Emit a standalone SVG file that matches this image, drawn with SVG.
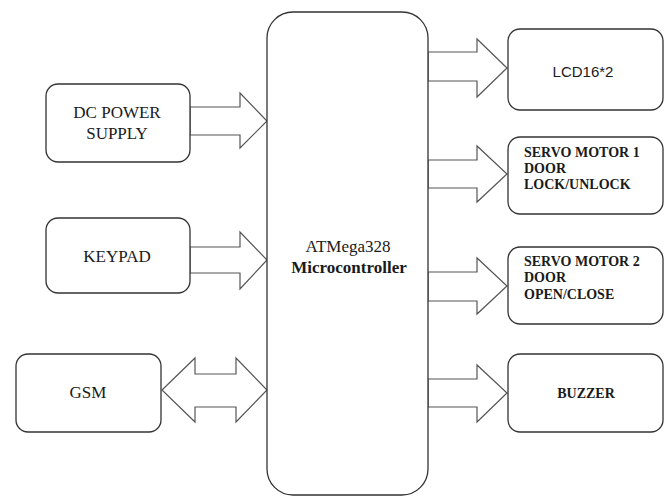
<svg xmlns="http://www.w3.org/2000/svg" width="665" height="497" viewBox="0 0 665 497">
<style>
.box{fill:#fff;stroke:#333;stroke-width:1.3}
.arr{fill:#fff;stroke:#555;stroke-width:1.2;stroke-linejoin:miter}
.t{font-family:"Liberation Serif","Times New Roman",serif;font-size:17px;fill:#1a1a1a}
.b{font-family:"Liberation Serif","Times New Roman",serif;font-size:14px;font-weight:bold;fill:#1a1a1a}
.s{font-family:"Liberation Sans",Arial,sans-serif;font-size:15px;fill:#1a1a1a}
</style>
<rect width="665" height="497" fill="#fff"/>
<g id="connectors">
<polygon class="arr" points="190,107 240,107 240,93 267,121 240,148 240,135 190,135"/>
<polygon class="arr" points="190,247 240,247 240,232 267,260 240,289 240,273 190,273"/>
<polygon class="arr" points="162,390 195,358 195,374 236,374 236,358 267,390 236,422 236,407 195,407 195,422"/>
<polygon class="arr" points="428,52 477,52 477,39 507,68 477,97 477,81 428,81"/>
<polygon class="arr" points="428,160 477,160 477,146 507,174 477,202 477,188 428,188"/>
<polygon class="arr" points="428,272 477,272 477,258 507,286 477,314 477,301 428,301"/>
<polygon class="arr" points="428,379 477,379 477,365 507,393 477,422 477,407 428,407"/>
</g>
<g id="mcu">
<rect class="box" x="267" y="12" width="161" height="483" rx="26" ry="26"/>
<text class="t" x="348" y="252" text-anchor="middle">ATMega328</text>
<text class="t" x="349" y="273" text-anchor="middle" font-weight="bold">Microcontroller</text>
</g>
<g id="dc">
<rect class="box" x="46" y="84" width="144" height="78" rx="12" ry="12"/>
<text class="t" x="117" y="118" text-anchor="middle">DC POWER</text>
<text class="t" x="117" y="139" text-anchor="middle">SUPPLY</text>
</g>
<g id="keypad">
<rect class="box" x="46" y="218" width="144" height="75" rx="12" ry="12"/>
<text class="t" x="117" y="262" text-anchor="middle">KEYPAD</text>
</g>
<g id="gsm">
<rect class="box" x="16" y="354" width="145" height="78" rx="12" ry="12"/>
<text class="t" x="88" y="398" text-anchor="middle">GSM</text>
</g>
<g id="lcd">
<rect class="box" x="508" y="29" width="155" height="81" rx="12" ry="12"/>
<text class="s" x="583" y="77" text-anchor="middle">LCD16*2</text>
</g>
<g id="servo1">
<rect class="box" x="508" y="137" width="155" height="77" rx="12" ry="12"/>
<text class="b" x="524" y="157">SERVO MOTOR 1</text>
<text class="b" x="524" y="173">DOOR</text>
<text class="b" x="524" y="189">LOCK/UNLOCK</text>
</g>
<g id="servo2">
<rect class="box" x="508" y="247" width="155" height="77" rx="12" ry="12"/>
<text class="b" x="524" y="266">SERVO MOTOR 2</text>
<text class="b" x="524" y="282">DOOR</text>
<text class="b" x="524" y="299">OPEN/CLOSE</text>
</g>
<g id="buzzer">
<rect class="box" x="508" y="354" width="155" height="78" rx="12" ry="12"/>
<text class="b" x="586" y="398" text-anchor="middle">BUZZER</text>
</g>
</svg>
